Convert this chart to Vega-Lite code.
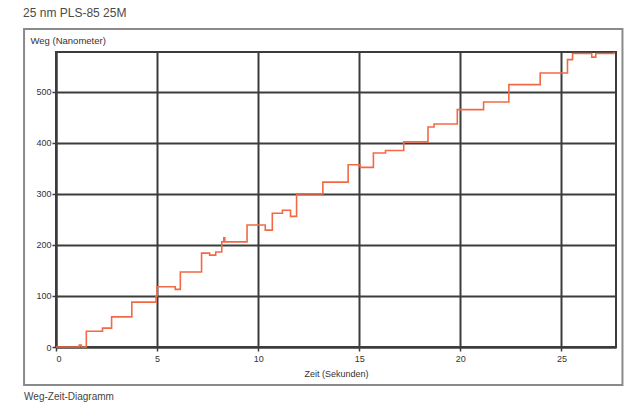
{
  "$schema": "https://vega.github.io/schema/vega-lite/v6.json",
  "width": 560,
  "height": 295,
  "autosize": "none",
  "padding": {"left": 56, "top": 52, "right": 11, "bottom": 62},
  "background": "white",
  "title": {
    "text": "25 nm PLS-85 25M",
    "anchor": "start",
    "frame": "bounds",
    "font": "Liberation Sans",
    "fontSize": 12,
    "fontWeight": "normal",
    "color": "#4a4a4a",
    "offset": 8
  },
  "config": {
    "view": {"stroke": "#3c3c3c", "strokeWidth": 2},
    "font": "Liberation Sans"
  },
  "layer": [
    {
      "data": {
        "values": [
          {"t": 0, "d": 0},
          {"t": 1.15, "d": 4},
          {"t": 1.25, "d": 0},
          {"t": 1.5, "d": 31},
          {"t": 2.3, "d": 37},
          {"t": 2.75, "d": 59},
          {"t": 3.75, "d": 88},
          {"t": 4.95, "d": 100},
          {"t": 5.0, "d": 118},
          {"t": 5.9, "d": 113},
          {"t": 6.15, "d": 147},
          {"t": 7.2, "d": 184},
          {"t": 7.6, "d": 180},
          {"t": 7.9, "d": 186},
          {"t": 8.2, "d": 206},
          {"t": 8.3, "d": 214},
          {"t": 8.35, "d": 206},
          {"t": 9.45, "d": 239},
          {"t": 10.35, "d": 229},
          {"t": 10.7, "d": 262},
          {"t": 11.2, "d": 268},
          {"t": 11.6, "d": 256},
          {"t": 11.9, "d": 300},
          {"t": 13.2, "d": 323},
          {"t": 14.45, "d": 357},
          {"t": 15.05, "d": 352},
          {"t": 15.7, "d": 380},
          {"t": 16.3, "d": 385},
          {"t": 17.2, "d": 402},
          {"t": 18.4, "d": 431},
          {"t": 18.7, "d": 437},
          {"t": 19.85, "d": 465},
          {"t": 21.15, "d": 480},
          {"t": 22.4, "d": 514},
          {"t": 23.95, "d": 537},
          {"t": 25.3, "d": 563},
          {"t": 25.55, "d": 575},
          {"t": 26.5, "d": 568},
          {"t": 26.7, "d": 575},
          {"t": 27.6, "d": 578}
        ]
      },
      "mark": {"type": "line", "interpolate": "step-after", "color": "#f26a45", "strokeWidth": 1.6},
      "encoding": {
        "x": {
          "field": "t", "type": "quantitative",
          "scale": {"domain": [0, 27.7], "nice": false, "zero": false},
          "axis": {
            "title": "Zeit (Sekunden)",
            "values": [0, 5, 10, 15, 20, 25],
            "grid": true, "gridColor": "#3c3c3c", "gridWidth": 2, "gridOpacity": 1,
            "domainColor": "#3c3c3c", "domainWidth": 2,
            "tickColor": "#3c3c3c", "tickSize": 4, "tickWidth": 1.5,
            "labelFontSize": 9, "labelColor": "#333", "labelPadding": 3,
            "titleFontSize": 9, "titleFontWeight": "normal", "titleColor": "#333",
            "titleY": 26, "titleBaseline": "middle"
          }
        },
        "y": {
          "field": "d", "type": "quantitative",
          "scale": {"domain": [0, 578], "nice": false},
          "axis": {
            "title": "Weg (Nanometer)",
            "values": [0, 100, 200, 300, 400, 500],
            "grid": true, "gridColor": "#3c3c3c", "gridWidth": 2, "gridOpacity": 1,
            "domainColor": "#3c3c3c", "domainWidth": 2,
            "tickColor": "#3c3c3c", "tickSize": 4, "tickWidth": 1.5,
            "labelFontSize": 9, "labelColor": "#333", "labelPadding": 1,
            "titleFontSize": 9.5, "titleFontWeight": "normal", "titleColor": "#333",
            "titleAngle": 0, "titleAlign": "left", "titleBaseline": "middle",
            "titleX": -26, "titleY": -12
          }
        }
      }
    },
    {
      "data": {"values": [{}]},
      "mark": {"type": "rect", "fillOpacity": 0, "stroke": "#8a8a8a", "strokeWidth": 2},
      "encoding": {
        "x": {"datum": -1.58, "type": "quantitative", "title": "Zeit (Sekunden)"},
        "x2": {"datum": 28.02},
        "y": {"datum": 623, "type": "quantitative", "title": "Weg (Nanometer)"},
        "y2": {"datum": -74.4}
      }
    },
    {
      "data": {"values": [{}]},
      "mark": {"type": "text", "align": "left", "baseline": "middle", "fontSize": 10, "color": "#444"},
      "encoding": {
        "x": {"datum": -1.58, "type": "quantitative", "title": "Zeit (Sekunden)"},
        "y": {"datum": -97, "type": "quantitative", "title": "Weg (Nanometer)"},
        "text": {"value": "Weg-Zeit-Diagramm"}
      }
    }
  ]
}
